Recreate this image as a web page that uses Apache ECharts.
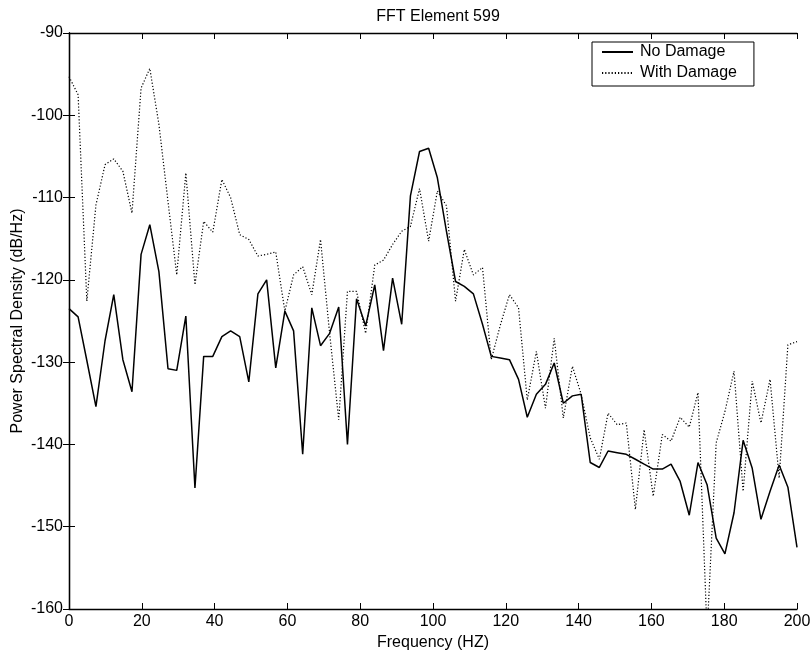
<!DOCTYPE html>
<html>
<head>
<meta charset="utf-8">
<script src="https://cdn.jsdelivr.net/npm/echarts@6/dist/echarts.min.js"></script>
<style>
  html, body { margin: 0; padding: 0; background: #fff; }
  #chart { width: 812px; height: 655px; }
</style>
</head>
<body>
<div id="chart"></div>
<script>
// frequency bins (Hz)
var freq = [0, 2.5, 4.9, 7.4, 9.9, 12.3, 14.8, 17.3, 19.8, 22.2,
  24.7, 27.2, 29.6, 32.1, 34.6, 37.0, 39.5, 42.0, 44.4, 46.9,
  49.4, 51.9, 54.3, 56.8, 59.3, 61.7, 64.2, 66.7, 69.1, 71.6,
  74.1, 76.5, 79.0, 81.5, 84.0, 86.4, 88.9, 91.4, 93.8, 96.3,
  98.8, 101.2, 103.7, 106.2, 108.6, 111.1, 113.6, 116.0, 118.5, 121.0,
  123.5, 125.9, 128.4, 130.9, 133.3, 135.8, 138.3, 140.7, 143.2, 145.7,
  148.1, 150.6, 153.1, 155.6, 158.0, 160.5, 163.0, 165.4, 167.9, 170.4,
  172.8, 175.3, 177.8, 180.2, 182.7, 185.2, 187.7, 190.1, 192.6, 195.1,
  197.5, 200.0];

// PSD, no damage (dB/Hz)
var noDamage = [-123.5, -124.5, -129.8, -135.4, -127.4, -121.8, -129.7, -133.6, -116.9, -113.3,
  -119.0, -130.8, -131.0, -124.4, -145.3, -129.3, -129.3, -126.9, -126.2, -126.9,
  -132.4, -121.7, -120.0, -130.7, -123.8, -126.2, -141.2, -123.4, -128.0, -126.5,
  -123.3, -140.0, -122.3, -125.6, -120.6, -128.6, -119.8, -125.4, -109.8, -104.4,
  -104.0, -107.6, -114.1, -120.2, -120.8, -121.7, -125.4, -129.3, -129.5, -129.7,
  -132.1, -136.7, -133.9, -132.7, -130.1, -135.0, -134.1, -133.9, -142.2, -142.8,
  -140.8, -141.0, -141.2, -141.8, -142.4, -143.0, -143.0, -142.4, -144.5, -148.6,
  -142.2, -144.9, -151.4, -153.3, -148.3, -139.5, -142.9, -149.1, -145.7, -142.5,
  -145.2, -152.5];

// PSD, with damage (dB/Hz)
var withDamage = [-95.3, -97.5, -122.6, -110.9, -106.0, -105.3, -106.8, -111.9, -96.7, -94.3,
  -101.1, -110.5, -119.4, -107.0, -120.6, -112.9, -114.2, -107.8, -110.0, -114.5,
  -115.1, -117.1, -116.9, -116.6, -123.8, -119.4, -118.4, -121.8, -115.1, -126.5,
  -137.0, -121.4, -121.4, -126.5, -118.2, -117.6, -115.7, -114.1, -113.5, -108.9,
  -115.3, -109.2, -111.0, -122.6, -116.3, -119.4, -118.5, -129.7, -125.5, -121.8,
  -123.4, -134.6, -128.7, -135.6, -127.1, -136.8, -130.5, -133.9, -139.2, -141.8,
  -136.2, -137.6, -137.4, -147.9, -138.2, -146.3, -138.8, -139.6, -136.7, -137.9,
  -133.7, -163.0, -139.8, -136.0, -131.1, -145.7, -132.3, -137.4, -132.1, -144.1,
  -127.9, -127.5];

function pairs(xs, ys) {
  var out = [];
  for (var i = 0; i < xs.length; i++) out.push([xs[i], ys[i]]);
  return out;
}

var chart = echarts.init(document.getElementById('chart'), null, { renderer: 'canvas' });
var fontName = 'Liberation Sans';

// matlab style box, ticks pointing in
var axLine = { show: true, lineStyle: { color: '#000', width: 1.3 } };
var axTick = { show: true, inside: true, length: 6, lineStyle: { color: '#000', width: 1 } };

var option = {
  backgroundColor: '#fff',
  animation: false,
  title: {
    text: 'FFT Element 599',
    left: 433,
    top: 4,
    textAlign: 'center',
    textStyle: { fontFamily: fontName, fontSize: 16, fontWeight: 'normal', color: '#000' }
  },
  legend: {
    orient: 'vertical',
    left: 592,
    top: 42,
    itemWidth: 31,
    itemHeight: 14,
    itemGap: 5,
    padding: [2, 17, 5, 9],
    borderColor: '#000',
    borderWidth: 1,
    borderRadius: 0,
    backgroundColor: '#fff',
    itemStyle: { opacity: 0 },
    textStyle: { fontFamily: fontName, fontSize: 16, color: '#000', padding: [0, 0, 0, 2] },
    data: ['No Damage', 'With Damage']
  },
  grid: { left: 69, right: 15, top: 33, bottom: 46, outerBoundsMode: 'none' },
  xAxis: [{
    type: 'value',
    min: 0, max: 200, interval: 20,
    name: 'Frequency (HZ)',
    nameLocation: 'middle',
    nameGap: 25,
    nameTextStyle: { fontFamily: fontName, fontSize: 16, color: '#000' },
    axisLine: axLine,
    axisTick: axTick,
    splitLine: { show: false },
    axisLabel: { fontFamily: fontName, fontSize: 16, color: '#000', margin: 5 }
  }, {
    type: 'value',
    position: 'top',
    min: 0, max: 200, interval: 20,
    axisLine: axLine,
    axisTick: axTick,
    splitLine: { show: false },
    axisLabel: { show: false }
  }],
  yAxis: [{
    type: 'value',
    min: -160, max: -90, interval: 10,
    name: 'Power Spectral Density (dB/Hz)',
    nameLocation: 'middle',
    nameGap: 43,
    nameMoveOverlap: false,
    nameTextStyle: { fontFamily: fontName, fontSize: 16, color: '#000' },
    axisLine: axLine,
    axisTick: axTick,
    splitLine: { show: false },
    axisLabel: { fontFamily: fontName, fontSize: 16, color: '#000', margin: 6 }
  }, {
    type: 'value',
    position: 'right',
    min: -160, max: -90, interval: 10,
    axisLine: axLine,
    axisTick: axTick,
    splitLine: { show: false },
    axisLabel: { show: false }
  }],
  series: [{
    name: 'No Damage',
    type: 'line',
    showSymbol: false,
    symbol: 'none',
    clip: true,
    lineStyle: { color: '#000', width: 1.5 },
    itemStyle: { color: '#000' },
    data: pairs(freq, noDamage)
  }, {
    name: 'With Damage',
    type: 'line',
    showSymbol: false,
    symbol: 'none',
    clip: true,
    lineStyle: { color: '#000', width: 1.2, type: [1.2, 2] },
    itemStyle: { color: '#000' },
    data: pairs(freq, withDamage)
  }]
};

chart.setOption(option);
</script>
</body>
</html>
